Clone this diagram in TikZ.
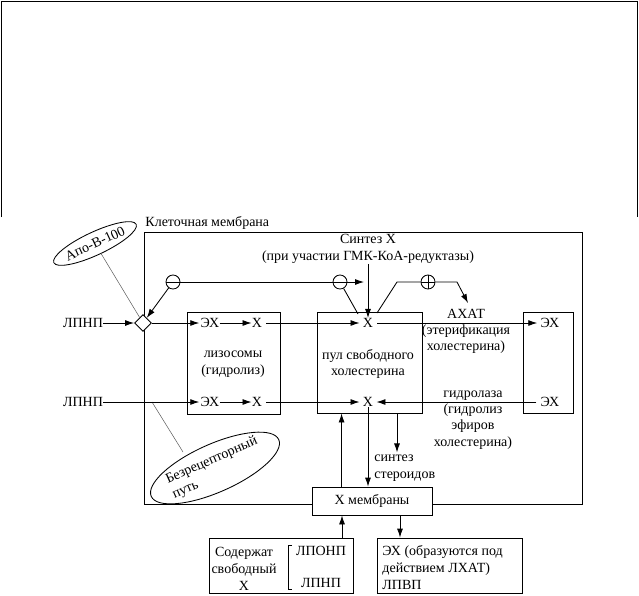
\documentclass[tikz,border=0pt]{standalone}
\usepackage{fontspec}
\setmainfont{Liberation Serif}
\usetikzlibrary{shapes.geometric,arrows.meta,calc}
\begin{document}
\begin{tikzpicture}[x=1pt,y=-1pt,line width=0.85pt,
  every node/.style={font=\fontsize{14}{16}\selectfont,inner sep=0pt},
  box/.style={draw,fill=white},
  arr/.style={-{Latex[length=9pt,width=6pt]}},
  leader/.style={line width=0.5pt,black!65},
  minussign/.style={circle,draw,fill=white,minimum size=14pt,
    path picture={\draw (path picture bounding box.west) -- (path picture bounding box.east);}},
  plussign/.style={circle,draw,fill=white,minimum size=14pt,
    path picture={\draw (path picture bounding box.west) -- (path picture bounding box.east);
                  \draw (path picture bounding box.north) -- (path picture bounding box.south);}}
]
\useasboundingbox (0,0) rectangle (639,595);
% top open frame
\coordinate (fa) at (1,217);
\coordinate (fb) at (1,1);
\coordinate (fc) at (637,1);
\coordinate (fd) at (637,217);
\draw (fa) -- (fb) -- (fc) -- (fd);

% membrane
\node[draw,minimum width=438pt,minimum height=272pt] (memb) at (363,368) {};
\node[anchor=west] (membl) at (145,223) {Клеточная мембрана};

% boxes
\node[box,minimum width=93pt,minimum height=102pt] (lys) at (233.5,363) {};
\node[box,minimum width=105pt,minimum height=101pt] (pool) at (369.5,362.5) {};
\node[box,minimum width=50pt,minimum height=101pt] (ehb) at (548,362.5) {};
\node[box,minimum width=120pt,minimum height=28pt] (xmem) at (372,501) {Х мембраны};
\node[box,minimum width=144pt,minimum height=55pt] (lbox) at (281,565.5) {};
\node[box,minimum width=145pt,minimum height=55pt] (rbox) at (449.5,565.5) {};

% texts
\node (lpnp1) at (83,323) {ЛПНП};
\node (lpnp2) at (83,402) {ЛПНП};
\node[diamond,draw,fill=white,minimum width=17pt,minimum height=17pt] (dia) at (143,323) {};
\node[draw,ellipse,rotate=25,minimum width=84pt,minimum height=23pt] (apo) at (95,243.5) {Апо-В-100};
\node[draw,ellipse,rotate=24,minimum width=136pt,minimum height=48pt,align=left] (bez) at (215,468) {Безрецепторный\\путь};

\node (ex1) at (210,323) {ЭХ};
\node (x1) at (257,323) {Х};
\node (ex2) at (210,402) {ЭХ};
\node (x2) at (257,402) {Х};
\node[align=center,font=\fontsize{14}{16.5}\selectfont] (lyst) at (233,364) {лизосомы\\(гидролиз)};

\node (px1) at (368,323) {Х};
\node (px2) at (368,402) {Х};
\node[align=center,font=\fontsize{14}{16.5}\selectfont] (poolt) at (368,364) {пул свободного\\холестерина};

\node (rex1) at (550,323) {ЭХ};
\node (rex2) at (550,402) {ЭХ};

\node[align=center,font=\fontsize{14}{16.5}\selectfont] (synth) at (368,249) {Синтез Х\\(при участии ГМК-КоА-редуктазы)};
\node[align=center,font=\fontsize{14}{16}\selectfont] (achat) at (466,331) {АХАТ\\(этерификация\\холестерина)};
\node[align=center,font=\fontsize{14}{16.3}\selectfont] (hydro) at (473,420) {гидролаза\\(гидролиз\\эфиров\\холестерина)};
\node[anchor=west,align=left,font=\fontsize{14}{17}\selectfont] (ster) at (374,468.5) {синтез\\стероидов};

\node[align=center,font=\fontsize{14}{17}\selectfont] (lboxt) at (244,569) {Содержат\\свободный\\Х};
\node (lponp) at (321,551) {ЛПОНП};
\node (lpnp3) at (321,583) {ЛПНП};
\node[anchor=west,align=left,font=\fontsize{14}{17}\selectfont] (rboxt) at (382,568) {ЭХ (образуются под\\действием ЛХАТ)\\ЛПВП};

% signs
\node[minussign] (m1) at (173,282) {};
\node[minussign] (m2) at (340,282) {};
\node[plussign] (p1) at (428,282) {};

% bracket
\coordinate (bra) at (292,545);
\coordinate (brb) at (288,545);
\coordinate (brc) at (288,589);
\coordinate (brd) at (292,589);
\draw (bra) -- (brb) -- (brc) -- (brd);

% leaders
\draw[leader] (apo) -- (dia);
\coordinate (bj) at (152,402);
\coordinate (bje) at (183,452);
\draw[leader] (bj) -- (bje);

% inhibition / activation
\draw (m1) -- (m2);
\draw[arr] (m1) -- (dia);
\coordinate (m2tip) at (364,282);
\draw[arr] (m2) -- (m2tip);
\coordinate (mline) at (358,314);
\draw (m2) -- (mline);
\draw[arr] (synth.south -| px1) -- (px1.north);
\coordinate (ps) at (377,313);
\coordinate (pk) at (397,282);
\coordinate (pk2) at (457,282);
\coordinate (ptip) at (468,303);
\draw (ps) -- (pk) -- (p1);
\draw[arr] (p1) -- (pk2) -- (ptip);

% main flows
\draw[arr] (lpnp1) -- (dia);
\draw[arr] (dia) -- ([xshift=-1pt]ex1.west);
\draw[arr] (ex1) -- (x1);
\draw[arr] ([xshift=4pt]x1.east) -- ([xshift=-3pt]px1.west);
\draw[arr] ([xshift=4pt]px1.east) -- ([xshift=-3pt]rex1.west);
\draw[arr] (lpnp2) -- ([xshift=-1pt]ex2.west);
\draw[arr] (ex2) -- (x2);
\draw[arr] ([xshift=4pt]x2.east) -- ([xshift=-3pt]px2.west);
\draw[arr] ([xshift=-4pt]rex2.west) -- ([xshift=3pt]px2.east);

% vertical flows
\coordinate (up1) at ($(xmem.north west)+(30,0)$);
\draw[arr] (up1) -- (up1 |- pool.south);
\draw[arr] (px2.south) -- (px2.south |- xmem.north);
\coordinate (st1) at ($(pool.south)+(27.5,0)$);
\coordinate (st2) at ($(pool.south)+(27.5,39)$);
\draw[arr] (st1) -- (st2);
\coordinate (up2) at ($(lbox.north)+(61,0)$);
\draw[arr] (up2) -- (up2 |- xmem.south);
\coordinate (dn2) at ($(xmem.south)+(28,0)$);
\draw[arr] (dn2) -- (dn2 |- rbox.north);
\end{tikzpicture}
\end{document}
